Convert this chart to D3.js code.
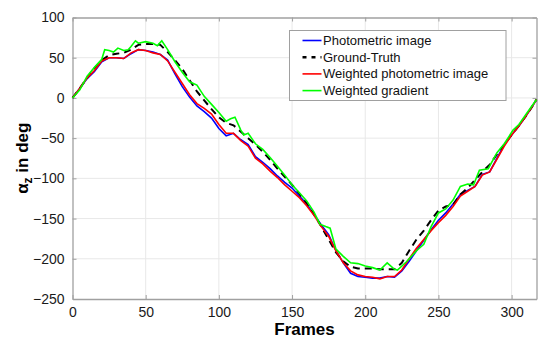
<!DOCTYPE html>
<html>
<head>
<meta charset="utf-8">
<script src="https://cdn.jsdelivr.net/npm/d3@7"></script>
<style>
  body { margin: 0; background: #fff; }
  text { font-family: "Liberation Sans", Arial, sans-serif; }
</style>
</head>
<body>
<svg id="chart" width="550" height="348"></svg>
<script>
// frames shared by the smoother series
const frames = [0, 5, 10, 15, 20, 25, 30, 35, 40, 45, 50, 55, 60, 65, 70, 75, 80, 85, 90, 95,
  100, 105, 110, 115, 120, 125, 130, 135, 140, 145, 150, 155, 160, 165, 170, 175, 180, 185, 190, 195,
  200, 205, 210, 215, 220, 225, 230, 235, 240, 245, 250, 255, 260, 265, 270, 275, 280, 285, 290, 295,
  300, 305, 310, 315, 317];

const photometric = [0, 12, 24, 33, 45, 50, 50, 49, 55, 60, 59, 57, 54, 47, 30, 14, 1, -10, -17, -25,
  -38, -47, -44, -52, -58, -73, -80, -88, -97, -105, -112, -122, -132, -145, -158, -170, -190, -205, -218, -222,
  -223, -224, -224, -222, -223, -215, -203, -190, -177, -164, -152, -143, -132, -120, -115, -110, -95, -92, -75, -58,
  -46, -35, -22, -8, -2];

const groundTruth = [0, 12, 25, 37, 47, 53, 55, 56, 60, 66, 67, 67, 66, 57, 47, 36, 22, 8, -3, -14,
  -24, -31, -34, -42, -50, -58, -67, -77, -88, -98, -108, -119, -131, -145, -160, -176, -192, -203, -210, -212,
  -212, -212, -213, -213, -213, -205, -190, -176, -165, -152, -140, -135, -133, -120, -112, -102, -92, -83, -70, -58,
  -46, -34, -22, -8, -2];

const weightedPhoto = [0, 12, 25, 34, 46, 50, 50, 49, 56, 60, 59, 56, 54, 46, 32, 18, 4, -7, -13, -20,
  -33, -44, -44, -53, -60, -75, -82, -91, -99, -108, -116, -124, -134, -146, -160, -172, -190, -205, -215, -220,
  -222, -223, -225, -222, -222, -214, -200, -187, -176, -165, -155, -146, -135, -122, -116, -110, -96, -92, -76, -60,
  -46, -35, -22, -8, -2];

// the gradient series is noisier, so it has its own frames
const framesGrad = [0, 5, 10, 15, 20, 22, 25, 28, 31, 35, 38, 40, 43, 45, 50, 55, 58, 61, 65, 70,
  75, 80, 85, 90, 95, 100, 105, 108, 111, 115, 117, 120, 125, 130, 135, 140, 145, 150, 155, 160,
  165, 169, 173, 176, 180, 185, 190, 195, 200, 205, 210, 215, 220, 222, 228, 235, 240, 245, 250, 255,
  260, 265, 270, 274, 278, 284, 290, 295, 301, 305, 310, 317];

const weightedGrad = [0, 10, 27, 38, 48, 60, 59, 57, 62, 59, 60, 64, 71, 68, 70, 68, 65, 71, 60, 45,
  32, 20, 16, 2, -8, -18, -29, -26, -24, -40, -46, -44, -57, -64, -74, -85, -96, -108, -118, -128,
  -142, -157, -160, -162, -188, -197, -205, -206, -209, -211, -214, -205, -213, -214, -204, -190, -182, -160, -143, -138,
  -127, -110, -107, -108, -90, -88, -68, -57, -40, -33, -20, -2];

const xTicks = [0, 50, 100, 150, 200, 250, 300];
const yTicks = [-250, -200, -150, -100, -50, 0, 50, 100];

const series = [
  { name: "Photometric image", x: frames, y: photometric, color: "#0000ff", dash: null },
  { name: "Ground-Truth", x: frames, y: groundTruth, color: "#000000", dash: "7,5" },
  { name: "Weighted photometric image", x: frames, y: weightedPhoto, color: "#ff0000", dash: null },
  { name: "Weighted gradient", x: framesGrad, y: weightedGrad, color: "#00ff00", dash: null }
];

const svg = d3.select("#chart");
const plot = { left: 72.5, right: 536.5, top: 17.5, bottom: 299 };

const x = d3.scaleLinear().domain([0, 317]).range([plot.left, plot.right]);
const y = d3.scaleLinear().domain([-250, 100]).range([plot.bottom, plot.top]);

// grid
svg.append("g").selectAll("line")
  .data(xTicks.slice(1))
  .join("line")
    .attr("x1", d => x(d)).attr("x2", d => x(d))
    .attr("y1", plot.top).attr("y2", plot.bottom)
    .attr("stroke", "#e8e8e8");
svg.append("g").selectAll("line")
  .data(yTicks.slice(1, -1))
  .join("line")
    .attr("x1", plot.left).attr("x2", plot.right)
    .attr("y1", d => y(d)).attr("y2", d => y(d))
    .attr("stroke", "#e8e8e8");

// axes
const axisColor = "#a0a0a0";
const xAxis = d3.axisBottom(x).tickValues(xTicks).tickSizeInner(-4).tickSizeOuter(0).tickPadding(8);
const yAxis = d3.axisLeft(y).tickValues(yTicks).tickSizeInner(-4).tickSizeOuter(0).tickPadding(8);

const gx = svg.append("g").attr("transform", `translate(0,${plot.bottom})`).call(xAxis);
const gy = svg.append("g").attr("transform", `translate(${plot.left},0)`).call(yAxis);
const gxTop = svg.append("g").attr("transform", `translate(0,${plot.top})`)
  .call(d3.axisTop(x).tickValues(xTicks).tickSizeInner(-4).tickSizeOuter(0).tickFormat(""));
const gyRight = svg.append("g").attr("transform", `translate(${plot.right},0)`)
  .call(d3.axisRight(y).tickValues(yTicks).tickSizeInner(-4).tickSizeOuter(0).tickFormat(""));

[gx, gy, gxTop, gyRight].forEach(g => {
  g.select(".domain").attr("stroke", axisColor).attr("stroke-width", 1.3);
  g.selectAll(".tick line").attr("stroke", axisColor);
  g.selectAll(".tick text")
    .attr("fill", "#1a1a1a")
    .style("font-size", "14px")
    .style("font-family", "'Liberation Sans', Arial, sans-serif");
});

// lines
const line = d3.line().x(d => x(d[0])).y(d => y(d[1]));

svg.append("g").selectAll("path")
  .data(series)
  .join("path")
    .attr("d", s => line(s.x.map((v, i) => [v, s.y[i]])))
    .attr("fill", "none")
    .attr("stroke", s => s.color)
    .attr("stroke-width", s => s.dash ? 2 : 1.6)
    .attr("stroke-dasharray", s => s.dash);

// axis labels
svg.append("text")
  .attr("x", (plot.left + plot.right) / 2).attr("y", 335)
  .attr("text-anchor", "middle")
  .style("font-size", "17px").style("font-weight", "bold")
  .text("Frames");

const yl = svg.append("text")
  .attr("transform", `translate(28,${(plot.top + plot.bottom) / 2}) rotate(-90)`)
  .attr("text-anchor", "middle")
  .style("font-size", "17px").style("font-weight", "bold");
yl.append("tspan").text("α");
yl.append("tspan").attr("dy", 4).style("font-size", "12px").text("z");
yl.append("tspan").attr("dy", -4).text(" in deg");

// legend
const legend = svg.append("g");
legend.append("rect")
  .attr("x", 289.5).attr("y", 30.5).attr("width", 216.5).attr("height", 70)
  .attr("fill", "#fff").attr("stroke", "#a0a0a0");

const row = legend.selectAll("g.row")
  .data(series)
  .join("g")
    .attr("class", "row")
    .attr("transform", (d, i) => `translate(0,${40.5 + i * 16.7})`);
row.append("line")
  .attr("x1", 302.5).attr("x2", 321.5)
  .attr("stroke", d => d.color)
  .attr("stroke-width", d => d.dash ? 2.5 : 1.6)
  .attr("stroke-dasharray", d => d.dash ? "4,5" : null);
row.append("text")
  .attr("x", 323).attr("y", 4.5)
  .style("font-size", "13px")
  .attr("fill", "#111")
  .text(d => d.name);
</script>
</body>
</html>
